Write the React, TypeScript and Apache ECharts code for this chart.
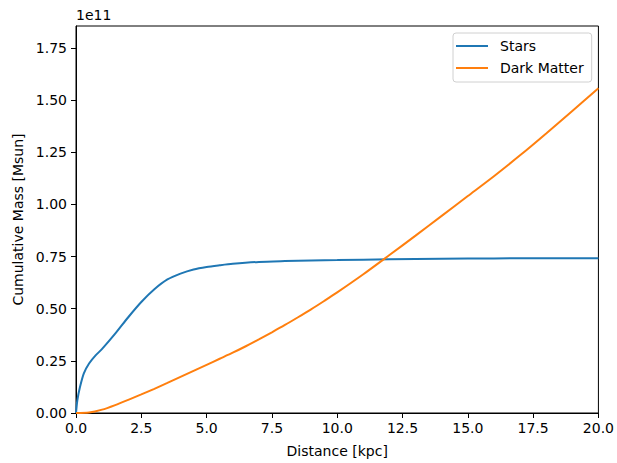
import React, { useEffect, useRef } from "react";
import * as echarts from "echarts";

// Distances [kpc] and cumulative masses in units of 1e11 Msun
const starsX = [0, 0.05, 0.15, 0.3, 0.5, 0.75, 1.0, 1.5, 2.0, 2.5, 3.0, 3.5, 4.0, 4.5, 5.0, 5.5, 6.0, 7.0, 8.0, 9.0, 10, 12, 14, 16, 18, 20];
const starsY = [0, 0.06, 0.123, 0.19, 0.237, 0.276, 0.307, 0.38, 0.459, 0.532, 0.593, 0.64, 0.668, 0.688, 0.7, 0.708, 0.715, 0.724, 0.728, 0.731, 0.733, 0.737, 0.739, 0.741, 0.742, 0.742];

const dmX = [0, 0.5, 1.0, 1.5, 2.0, 2.5, 3.0, 3.5, 4.0, 4.5, 5.0, 5.5, 6.0, 6.5, 7.0, 7.5, 8.0, 8.5, 9.0, 9.5, 10, 11, 12, 13, 14, 15, 16, 17, 18, 19, 20];
const dmY = [0, 0.002, 0.016, 0.038, 0.063, 0.089, 0.116, 0.144, 0.173, 0.202, 0.231, 0.26, 0.289, 0.32, 0.353, 0.387, 0.422, 0.459, 0.497, 0.537, 0.578, 0.665, 0.757, 0.85, 0.945, 1.04, 1.135, 1.235, 1.34, 1.448, 1.557];

const xTicks = [0, 2.5, 5, 7.5, 10, 12.5, 15, 17.5, 20];
const yTicks = [0, 0.25, 0.5, 0.75, 1.0, 1.25, 1.5, 1.75];

const seriesNames = ["Stars", "Dark Matter"];
const colors = ["#1f77b4", "#ff7f0e"];

const FONT = "DejaVu Sans";
const FS = 14;

export default function App() {
  const ref = useRef<HTMLDivElement>(null);
  useEffect(() => {
    if (!ref.current) return;
    const chart = echarts.init(ref.current, undefined, { renderer: "svg" });
    const axisCommon = {
      axisLine: { show: true, onZero: false, lineStyle: { color: "#000", width: 1 } },
      axisTick: { show: true, inside: false, length: 5, lineStyle: { color: "#000", width: 1 } },
      splitLine: { show: false },
    };
    chart.setOption({
      animation: false,
      backgroundColor: "#fff",
      grid: { left: 76, right: 16, top: 26, bottom: 46, show: true, borderColor: "#000", borderWidth: 1, containLabel: false },
      legend: {
        orient: "vertical",
        left: 453,
        top: 33,
        padding: [6, 8, 7, 3],
        itemGap: 8,
        itemWidth: 32,
        itemHeight: 2,
        icon: "rect",
        borderColor: "#d0d0d0",
        borderWidth: 1,
        borderRadius: 3,
        backgroundColor: "rgba(255,255,255,0.8)",
        textStyle: { fontFamily: FONT, fontSize: FS, color: "#000", padding: [0, 0, 0, 7] },
        data: seriesNames,
      },
      xAxis: {
        type: "value",
        min: 0,
        max: 20,
        interval: 2.5,
        name: "Distance [kpc]",
        nameLocation: "middle",
        nameGap: 31,
        nameTextStyle: { fontFamily: FONT, fontSize: FS, color: "#000" },
        ...axisCommon,
        axisTick: { ...axisCommon.axisTick, customValues: xTicks },
        axisLabel: {
          fontFamily: FONT,
          fontSize: FS,
          color: "#000",
          margin: 8,
          customValues: xTicks,
          formatter: (v: number) => v.toFixed(1),
        },
      },
      yAxis: {
        type: "value",
        min: 0,
        max: 1.855,
        name: "Cumulative Mass [Msun]",
        nameLocation: "middle",
        nameGap: 51,
        nameTextStyle: { fontFamily: FONT, fontSize: FS, color: "#000" },
        ...axisCommon,
        axisTick: { ...axisCommon.axisTick, customValues: yTicks },
        axisLabel: {
          fontFamily: FONT,
          fontSize: FS,
          color: "#000",
          margin: 9,
          customValues: yTicks,
          formatter: (v: number) => v.toFixed(2),
        },
      },
      graphic: [
        {
          type: "text",
          left: 76,
          top: 8,
          style: { text: "1e11", fontFamily: FONT, fontSize: FS, fill: "#000" },
        },
      ],
      series: [
        {
          name: seriesNames[0],
          type: "line",
          data: starsX.map((x, i) => [x, starsY[i]]),
          showSymbol: false,
          smooth: 0.25,
          lineStyle: { color: colors[0], width: 2 },
          itemStyle: { color: colors[0] },
          clip: true,
        },
        {
          name: seriesNames[1],
          type: "line",
          data: dmX.map((x, i) => [x, dmY[i]]),
          showSymbol: false,
          smooth: 0.25,
          lineStyle: { color: colors[1], width: 2 },
          itemStyle: { color: colors[1] },
          clip: true,
        },
      ],
    });
    return () => chart.dispose();
  }, []);
  return <div ref={ref} style={{ width: 617, height: 463, position: "absolute", left: 0, top: 0 }} />;
}
